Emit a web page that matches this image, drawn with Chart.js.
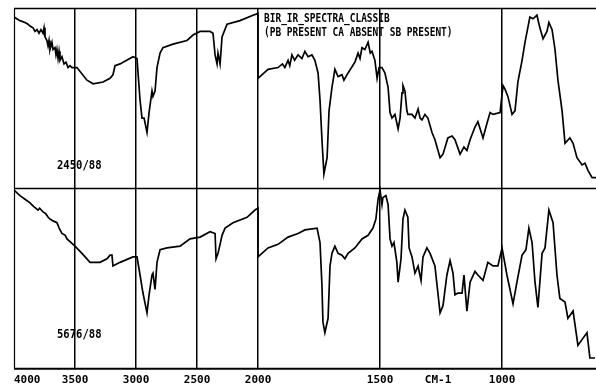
<!DOCTYPE html>
<html><head><meta charset="utf-8">
<script src="https://cdn.jsdelivr.net/npm/chart.js@4/dist/chart.umd.min.js"></script>
<style>html,body{margin:0;padding:0;background:#fff}</style>
</head><body>
<canvas id="c" width="596" height="387"></canvas>
<script>
// x-axis tick labels (wavenumbers, cm-1) and the unit label
const tickLabels = ['4000','3500','3000','2500','2000','1500','CM-1','1000',''];
const tickWavenumbers = [4000,3500,3000,2500,2000,1500,1262,1000,615];

// Upper spectrum (sample 2450/88): wavenumber and transmittance %
const topWavenumbers = [4000,3951,3910,3885,3869,3844,3828,3811,3795,3779,3762,3754,3746,3730,3721,3713,3705,3689,3680,3664,3656,3648,3639,3631,3623,3607,3590,3574,3557,3541,3525,3500,3484,3402,3352,3270,3213,3189,3172,3131,3025,2992,2967,2951,2934,2910,2893,2869,2861,2844,2828,2803,2779,2697,2582,2533,2475,2393,2369,2352,2336,2328,2311,2295,2254,2148,2041,2000,
 2000,1959,1918,1900,1890,1877,1870,1861,1850,1836,1820,1808,1795,1779,1767,1754,1746,1738,1730,1717,1709,1697,1685,1672,1656,1648,1631,1603,1590,1582,1574,1562,1549,1540,1533,1521,1512,1504,1492,1480,1467,1459,1451,1439,1426,1418,1410,1406,1398,1390,1386,1369,1357,1344,1336,1328,1316,1304,1287,1275,1254,1242,1222,1205,1193,1172,1156,1144,1131,1111,1099,1078,1062,1049,1037,1008,996,988,976,959,947,935,918,906,886,873,857,845,832,816,808,795,783,771,754,742,722,709,693,672,660,648,631,615];
const topValues = [95,93,92,91,90,89,87,88,86,88,86,89,84,82,79,82,77,81,77,78,74,77,72,76,71,73,69,70,67,68,67,67,67,60,58,59,61,63,68,69,73,72,49,39,39,31,42,54,51,54,67,75,78,80,82,85,87,87,86,74,69,75,69,84,91,93,96,97,
 61,66,67,69,67,71,68,74,71,74,72,76,73,74,71,64,49,27,8,17,43,56,66,62,63,60,64,70,75,72,78,77,81,75,76,71,61,67,67,64,56,42,39,41,33,39,53,57,54,43,41,41,39,44,39,38,41,39,31,27,17,19,28,29,27,19,23,21,27,34,37,28,36,42,41,42,57,55,51,41,43,59,71,81,95,94,96,89,83,87,92,88,77,60,43,25,28,25,17,13,14,10,6,6];

// Lower spectrum (sample 5676/88)
const bottomWavenumbers = [4000,3951,3910,3869,3840,3803,3790,3762,3740,3720,3705,3680,3648,3630,3607,3580,3566,3500,3443,3377,3295,3238,3213,3197,3189,3131,3025,2992,2967,2943,2910,2893,2869,2861,2844,2828,2803,2746,2639,2557,2475,2393,2352,2344,2328,2311,2295,2270,2205,2090,2025,2000,
 2000,1959,1918,1877,1836,1808,1758,1746,1738,1734,1726,1713,1705,1697,1685,1672,1656,1644,1631,1603,1574,1549,1529,1517,1508,1500,1492,1488,1476,1467,1459,1451,1443,1431,1426,1414,1406,1398,1386,1381,1369,1357,1344,1332,1324,1308,1295,1275,1254,1242,1226,1213,1201,1193,1181,1164,1156,1144,1131,1111,1099,1078,1058,1037,1017,1000,980,955,939,918,902,890,877,865,853,836,824,808,791,775,763,742,730,709,689,668,652,640,619];
const bottomValues = [99,96,94,92,90,88,89,87,86,84,83,82,81,78,75,74,72,68,64,59,59,61,63,63,57,59,62,62,52,42,31,41,52,53,44,59,66,67,68,72,73,76,75,61,64,69,74,78,81,84,88,89,
 62,67,69,73,75,77,78,70,46,26,20,28,57,64,68,64,63,61,64,67,72,74,78,83,94,99,91,95,96,91,72,68,70,59,48,61,83,88,84,67,62,53,57,49,62,67,64,57,31,35,52,60,53,41,42,42,52,32,48,54,52,49,59,57,57,67,52,36,48,63,66,78,70,48,34,64,67,88,81,52,39,37,28,32,13,17,20,6,6];

const sampleLabels = ['2450/88','5676/88'];
const titleLines = ['BIR_IR_SPECTRA_CLASSIB','(PB PRESENT CA ABSENT SB PRESENT)'];

// The instrument plots 4000-2000 cm-1 at half the scale of 2000-600 cm-1
const toAxis = w => w >= 2000 ? 4000 - w : 2000 + 2 * (2000 - w);

const pts = (ws, vs) => ws.map((w, i) => ({x: toAxis(w), y: vs[i]}));

function drawText(c, s, x, y, size, sx) {
  c.save();
  c.font = 'bold ' + size + 'px "DejaVu Sans Mono"';
  c.fillStyle = '#000';
  c.textBaseline = 'alphabetic';
  c.textAlign = 'left';
  c.translate(x, y);
  c.scale(sx, 1);
  c.fillText(s, 0, 0);
  c.restore();
}

const frame = {
  id: 'frame',
  afterDatasetsDraw(chart) {
    const c = chart.ctx, a = chart.chartArea;
    const mid = chart.scales.yBot.getPixelForValue(100);
    c.save();
    c.strokeStyle = '#000';
    c.lineWidth = 1.5;
    c.beginPath(); c.moveTo(a.left, a.top + 0.5); c.lineTo(a.right, a.top + 0.5); c.stroke();
    c.beginPath(); c.moveTo(a.left, mid); c.lineTo(a.right, mid); c.stroke();
    c.lineWidth = 2;
    c.beginPath(); c.moveTo(a.left, a.bottom); c.lineTo(a.right, a.bottom); c.stroke();
    c.lineWidth = 1.2;
    c.beginPath(); c.moveTo(a.left + 0.5, a.top); c.lineTo(a.left + 0.5, a.bottom); c.stroke();
    c.restore();
    drawText(c, titleLines[0], 264, a.top + 14, 13, 0.73);
    drawText(c, titleLines[1], 264, a.top + 28, 13, 0.73);
    drawText(c, sampleLabels[0], 57, a.top + 161, 12, 0.88);
    drawText(c, sampleLabels[1], 57, mid + 150, 12, 0.88);
  }
};

const gridOn = i => tickLabels[i] !== '' && tickLabels[i] !== 'CM-1';

new Chart(document.getElementById('c'), {
  type: 'line',
  data: {
    datasets: [
      {data: pts(topWavenumbers, topValues), yAxisID: 'yTop', borderColor: '#000', borderWidth: 1.7, pointRadius: 0, tension: 0, fill: false},
      {data: pts(bottomWavenumbers, bottomValues), yAxisID: 'yBot', borderColor: '#000', borderWidth: 1.7, pointRadius: 0, tension: 0, fill: false}
    ]
  },
  options: {
    responsive: false,
    animation: false,
    devicePixelRatio: 1,
    layout: {padding: {left: 14, top: 8, right: 0, bottom: -5}},
    plugins: {legend: {display: false}, tooltip: {enabled: false}},
    scales: {
      x: {
        type: 'linear', min: 0, max: toAxis(615),
        afterBuildTicks: s => { s.ticks = tickWavenumbers.map(w => ({value: toAxis(w)})); },
        afterFit: s => { s.paddingRight = 0; s.paddingLeft = 0; },
        ticks: {
          autoSkip: false, maxRotation: 0, minRotation: 0, align: 'inner', padding: 5,
          color: '#000', font: {family: 'DejaVu Sans Mono', weight: 'bold', size: 11},
          callback: (v, i) => tickLabels[i]
        },
        grid: {
          drawTicks: false,
          color: c => (c.index > 0 && gridOn(c.index)) ? '#000' : 'rgba(0,0,0,0)',
          lineWidth: 1.5
        },
        border: {display: false}
      },
      yTop: {type: 'linear', min: -100, max: 100, display: false},
      yBot: {type: 'linear', min: 0, max: 200, display: false}
    }
  },
  plugins: [frame]
});
</script>
</body></html>
